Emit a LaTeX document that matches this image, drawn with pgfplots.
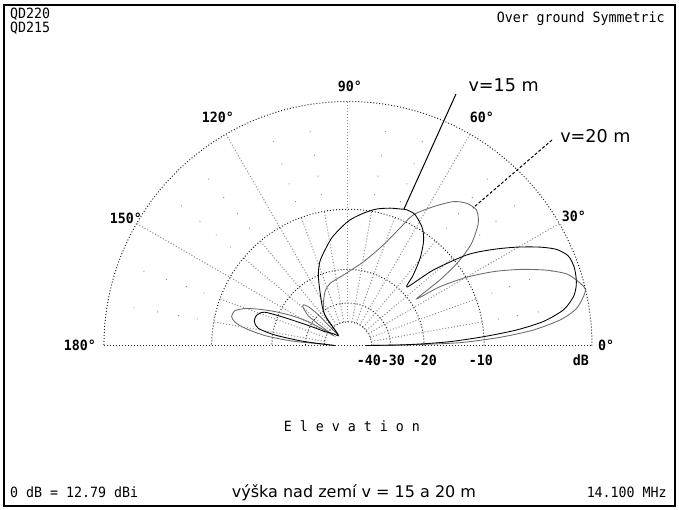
\documentclass[border=0pt]{standalone}
\usepackage{fontspec}
\setmainfont{DejaVu Sans}
\newfontfamily\monofam{DejaVu Sans Mono}[FakeStretch=0.94]
\usepackage{pgfplots}
\pgfplotsset{compat=1.18}
\usepackage{pgfplotstable}

% elevation pattern: angle (deg), gain (dB rel. 12.79 dBi)
\pgfplotstableread{
a g
0 -45
0.6 -27
1.2 -20.9
2.15 -15.0
3.7 -10.1
5.25 -6.3
7.0 -3.7
9.4 -1.9
12.2 -0.97
14.5 -0.6
16.6 -0.43
19.2 -0.33
22.1 -0.44
24.7 -1.03
27.1 -2.1
30.2 -3.8
33.5 -5.8
37.3 -8.4
41.5 -13.1
44.7 -18.5
47.2 -16.0
50.4 -13.2
54.0 -11.0
57.5 -9.7
62.8 -8.7
66.6 -8.6
69.1 -8.8
73.0 -9.1
78.1 -9.6
83.4 -10.4
89.1 -11.4
93.9 -12.6
98.7 -13.9
103.5 -15.6
108.5 -17.4
112.8 -19.9
117.5 -23.9
124.3 -29.0
128.1 -33.5
132.7 -48.7
140 -45
146 -40
149 -37.9
151.5 -33
153.8 -27.9
156.2 -21.7
158.2 -17.2
161.5 -16.0
165.7 -15.9
169.2 -16.9
171.8 -20.5
174.5 -28.4
177 -40
180 -50
}\vfifteen

\pgfplotstableread{
a g
0 -45
0.6 -24
1.45 -13.4
3.08 -8.1
4.78 -4.66
6.86 -2.29
8.9 -1.03
11.0 -0.42
13.3 0.0
15.5 -0.36
18.1 -1.0
20.8 -2.4
23.9 -4.5
26.9 -6.9
29.9 -9.9
32.6 -13.8
34.2 -18.5
35.5 -13.2
37.2 -9.7
39.6 -7.2
43.2 -5.35
46.5 -4.6
50.1 -4.73
53.8 -5.39
58.4 -6.93
63.4 -8.8
66.1 -11.0
70.6 -14.2
79.6 -18.1
93.8 -21.3
106.1 -22.8
113.1 -24.5
121.3 -28.1
127.0 -31.8
132.7 -48.7
134 -30
135.5 -25.5
137.5 -24
139.5 -24.3
141.5 -25.8
143.3 -27.5
144.3 -33
145.5 -45
147.5 -36
149 -28.5
152.1 -23.0
155.1 -19.0
157.9 -15.9
160.2 -13.8
163.0 -12.4
166.1 -12.2
168.4 -12.9
170.5 -14.6
173.2 -18.4
175.4 -25.1
177.1 -40.5
180 -50
}\vtwenty

\newcommand\bm{\monofam\fontsize{10.6pt}{12pt}\selectfont}
\newcommand\bmb{\monofam\bfseries\fontsize{10.6pt}{12pt}\selectfont}

\begin{document}
\begin{tikzpicture}
\begin{scope}[x=183pt,y=183pt]
  \tikzset{rdot/.style={line width=0.75pt,black!85,dash pattern=on 0.75pt off 1.5pt},
           sdot/.style={line width=0.75pt,black!45,dash pattern=on 0.75pt off 1.5pt}}
  % frame
  \draw[line width=0.9pt] (-1.4098,1.3955) rectangle (1.3402,-0.6578);
  % rings (ARRL log scale: 0, -10, -20, -30, -40 dB)
  \foreach \r in {1,0.5584,0.3118,0.1741,0.0972}
    \draw[rdot] (\r,0) arc[start angle=0,end angle=180,radius=\r];
  % baseline
  \draw[rdot] (-1,0) -- (1,0);
  % 30 degree spokes
  \foreach \t in {30,60,90,120,150}
    \draw[sdot] (\t:0.0972) -- (\t:1);
  % 10 degree spokes inside -10 dB ring
  \foreach \t in {10,20,40,50,70,80,100,110,130,140,160,170}
    \draw[sdot] (\t:0.0972) -- (\t:0.5584);
  % grid dots every 2 dB
  \foreach \t in {10,20,40,50,70,80,100,110,130,140,160,170}
    \foreach \r in {0.89,0.7921,0.705,0.6274}
      \fill[black!50] (\t:\r) circle[radius=0.45pt];
\end{scope}

\begin{axis}[at={(0,0)}, anchor=origin, x=183pt, y=183pt,
  xmin=-1.42623, xmax=1.35656, ymin=-0.67008, ymax=1.41598,
  hide axis, clip=false]
\addplot[black!58, line width=0.65pt, smooth, tension=0.45]
  table[x expr={exp(0.058267*\thisrow{g})*cos(\thisrow{a})},
        y expr={exp(0.058267*\thisrow{g})*sin(\thisrow{a})}] {\vtwenty};
\addplot[black, line width=0.65pt, smooth, tension=0.45]
  table[x expr={exp(0.058267*\thisrow{g})*cos(\thisrow{a})},
        y expr={exp(0.058267*\thisrow{g})*sin(\thisrow{a})}] {\vfifteen};
\end{axis}

\begin{scope}[x=183pt,y=183pt]
  % pointers
  \draw[line width=0.75pt] (0.4426,1.0307) -- (0.2295,0.5594);
  \draw[line width=0.75pt,dash pattern=on 2.2pt off 1.5pt] (0.8361,0.8422) -- (0.5123,0.5635);
  \node[anchor=base west,inner sep=0,font=\fontsize{13.2pt}{15pt}\selectfont] at (0.4931,1.0389) {v=15 m};
  \node[anchor=base west,inner sep=0,font=\fontsize{13.2pt}{15pt}\selectfont] at (0.8689,0.8299) {v=20 m};
  % corner texts
  \node[anchor=west,inner sep=0,font=\bm] at (-1.3852,1.3586) {QD220};
  \node[anchor=west,inner sep=0,font=\bm] at (-1.3852,1.3012) {QD215};
  \node[anchor=east,inner sep=0,font=\bm] at (1.2992,1.3381) {Over ground Symmetric};
  % angle labels
  \node[inner sep=0,font=\bmb] at (0.0082,1.0635) {90°};
  \node[inner sep=0,font=\bmb] at (-0.5328,0.9365) {120°};
  \node[inner sep=0,font=\bmb] at (0.5492,0.9365) {60°};
  \node[inner sep=0,font=\bmb] at (-0.9098,0.5225) {150°};
  \node[inner sep=0,font=\bmb] at (0.9262,0.5307) {30°};
  \node[inner sep=0,font=\bmb] at (-1.0984,0.002) {180°};
  \node[inner sep=0,font=\bmb] at (1.0574,0.002) {0°};
  % dB scale labels
  \node[inner sep=0,font=\bmb] at (0.0861,-0.0594) {-40};
  \node[inner sep=0,font=\bmb] at (0.1844,-0.0594) {-30};
  \node[inner sep=0,font=\bmb] at (0.3156,-0.0594) {-20};
  \node[inner sep=0,font=\bmb] at (0.5451,-0.0594) {-10};
  \node[inner sep=0,font=\bmb] at (0.9549,-0.0594) {dB};
  % bottom texts
  \node[inner sep=0,font=\bm] at (0.0164,-0.3299) {E l e v a t i o n};
  \node[anchor=west,inner sep=0,font=\bm] at (-1.3852,-0.6004) {0 dB = 12.79 dBi};
  \node[anchor=base,inner sep=0,font=\fontsize{12pt}{14pt}\selectfont] at (0.0246,-0.6209) {výška nad zemí v = 15 a 20 m};
  \node[anchor=east,inner sep=0,font=\bm] at (1.3074,-0.6004) {14.100 MHz};
\end{scope}
\pgfresetboundingbox
\useasboundingbox (-260.97pt,-122.62pt) rectangle (248.25pt,259.12pt);
\end{tikzpicture}
\end{document}
